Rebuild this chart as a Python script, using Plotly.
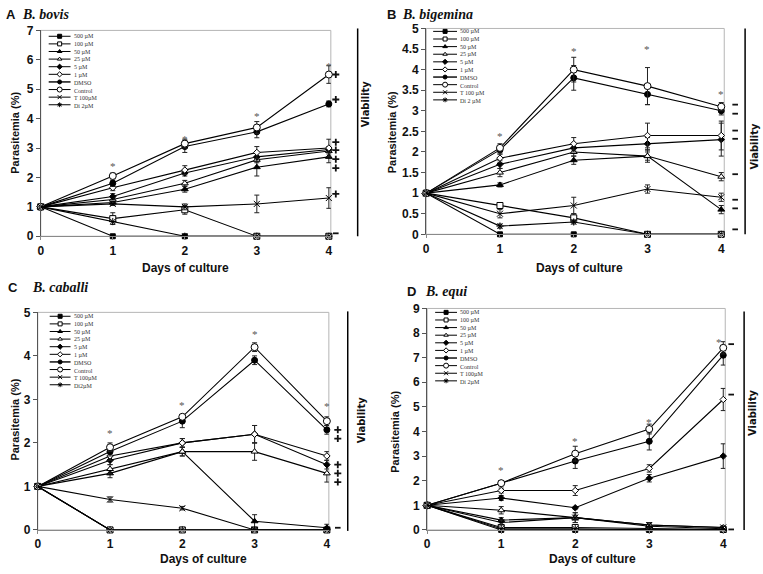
import plotly.graph_objects as go

W, H = 763, 574
days = [0, 1, 2, 3, 4]
keys = ["500", "100", "50", "25", "5", "1", "DMSO", "Control", "T", "Di"]

# ---------------- data: A  B. bovis ----------------
A_500 = [1, 0, 0, 0, 0]
A_100 = [1, 0.6, 0.9, 0, 0]
A_50 = [1, 1.15, 1.6, 2.35, 2.7]
A_25 = [1, 1.25, 1.8, 2.6, 2.9]
A_5 = [1, 1.35, 2.15, 2.7, 2.95]
A_1 = [1, 1.65, 2.25, 2.85, 3.0]
A_DMSO = [1, 1.8, 3.05, 3.55, 4.5]
A_Control = [1, 2.05, 3.15, 3.7, 5.5]
A_T = [1, 1.1, 1.0, 1.1, 1.3]
A_Di = [1, 0.5, 0, 0, 0]
A_err_Control = [0, 0.1, 0.15, 0.2, 0.3]
A_err_DMSO = [0, 0.1, 0.2, 0.2, 0.1]
A_err_1 = [0, 0.1, 0.15, 0.2, 0.3]
A_err_5 = [0, 0.1, 0.1, 0.15, 0.1]
A_err_25 = [0, 0.1, 0.1, 0.1, 0.1]
A_err_50 = [0, 0.1, 0.1, 0.3, 0.2]
A_err_100 = [0, 0.2, 0.15, 0, 0]
A_err_T = [0, 0.05, 0.1, 0.3, 0.35]
A_star = [2.38, 3.3, 4.1, 5.8]
A_plus = [5.5, 4.65, 3.2, 2.93, 2.62, 2.32, 1.44]
A_minus = [0.1]

# ---------------- data: B  B. bigemina ----------------
B_500 = [1, 0, 0, 0, 0]
B_100 = [1, 0.7, 0.4, 0, 0]
B_50 = [1, 1.2, 1.8, 1.9, 0.6]
B_25 = [1, 1.5, 2.0, 1.9, 1.4]
B_5 = [1, 1.7, 2.1, 2.2, 2.3]
B_1 = [1, 1.85, 2.2, 2.4, 2.4]
B_DMSO = [1, 2.05, 3.8, 3.4, 3.0]
B_Control = [1, 2.1, 4.0, 3.6, 3.1]
B_T = [1, 0.5, 0.7, 1.1, 0.9]
B_Di = [1, 0.2, 0.3, 0, 0]
B_err_Control = [0, 0.1, 0.3, 0.45, 0.1]
B_err_DMSO = [0, 0.1, 0.3, 0.25, 0.1]
B_err_1 = [0, 0.1, 0.15, 0.3, 0.35]
B_err_5 = [0, 0.1, 0.1, 0.15, 0.4]
B_err_25 = [0, 0.1, 0.1, 0.15, 0.1]
B_err_50 = [0, 0.05, 0.1, 0.1, 0.1]
B_err_100 = [0, 0.05, 0.1, 0, 0]
B_err_T = [0, 0.1, 0.2, 0.1, 0.1]
B_err_Di = [0, 0.05, 0.05, 0, 0]
B_star = [2.38, 4.45, 4.5, 3.42]
B_plus = []
B_minus = [3.15, 2.93, 2.52, 2.32, 1.46, 0.84, 0.63, 0.12]

# ---------------- data: C  B. caballi ----------------
C_500 = [1, 0, 0, 0, 0]
C_100 = [1, 0, 0, 0, 0]
C_50 = [1, 1.3, 1.8, 0.2, 0.05]
C_25 = [1, 1.4, 1.8, 1.8, 1.3]
C_5 = [1, 1.6, 2.0, 2.2, 1.5]
C_1 = [1, 1.7, 2.0, 2.2, 1.7]
C_DMSO = [1, 1.8, 2.5, 3.9, 2.3]
C_Control = [1, 1.9, 2.6, 4.2, 2.5]
C_T = [1, 0.7, 0.5, 0, 0]
C_Di = [1, 0, 0, 0, 0]
C_err_Control = [0, 0.1, 0.05, 0.1, 0.1]
C_err_DMSO = [0, 0.1, 0.15, 0.1, 0.1]
C_err_1 = [0, 0.1, 0.1, 0.2, 0.1]
C_err_5 = [0, 0.1, 0.1, 0.2, 0.1]
C_err_25 = [0, 0.1, 0.1, 0.2, 0.2]
C_err_50 = [0, 0.1, 0.1, 0.15, 0.08]
C_err_T = [0, 0.06, 0.04, 0, 0]
C_star = [2.22, 2.86, 4.5, 2.84]
C_plus = [2.3, 2.1, 1.5, 1.3, 1.1]
C_minus = [0.05]

# ---------------- data: D  B. equi ----------------
D_500 = [1, 0, 0, 0, 0]
D_100 = [1, 0.1, 0.1, 0.05, 0.02]
D_50 = [1, 0.4, 0.5, 0.15, 0.05]
D_25 = [1, 0.8, 0.5, 0.2, 0.1]
D_5 = [1, 1.3, 0.9, 2.1, 3.0]
D_1 = [1, 1.6, 1.6, 2.5, 5.3]
D_DMSO = [1, 1.9, 2.8, 3.6, 7.1]
D_Control = [1, 1.9, 3.1, 4.1, 7.4]
D_T = [1, 0.3, 0.5, 0.2, 0.1]
D_Di = [1, 0.05, 0.05, 0, 0]
D_err_Control = [0, 0.1, 0.3, 0.2, 0.25]
D_err_DMSO = [0, 0.1, 0.3, 0.35, 0.4]
D_err_1 = [0, 0.1, 0.2, 0.15, 0.45]
D_err_5 = [0, 0.1, 0.05, 0.15, 0.5]
D_err_25 = [0, 0.15, 0.1, 0.1, 0.05]
D_err_50 = [0, 0.1, 0.2, 0.1, 0.05]
D_err_T = [0, 0.1, 0.2, 0.1, 0.05]
D_star = [2.42, 3.6, 4.4, 7.65]
D_plus = []
D_minus = [7.55, 5.5, 0.02]

legend_A = ["500 µM", "100 µM", "50 µM", "25 µM", "5 µM", "1 µM", "DMSO", "Control", "T 100µM", "Di 2µM"]
legend_B = ["500 µM", "100 µM", "50 µM", "25 µM", "5 µM", "1 µM", "DMSO", "Control", "T 100 µM", "Di 2 µM"]
legend_C = ["500 µM", "100 µM", "50 µM", "25 µM", "5 µM", "1 µM", "DMSO", "Control", "T 100µM", "Di2µM"]
legend_D = ["500 µM", "100 µM", "50 µM", "25 µM", "5 µM", "1 µM", "DMSO", "Control", "T 100µM", "Di 2µM"]

yticks_A = [0, 1, 2, 3, 4, 5, 6, 7]
yticks_B = [0, 0.5, 1, 1.5, 2, 2.5, 3, 3.5, 4, 4.5, 5]
yticks_C = [0, 1, 2, 3, 4, 5]
yticks_D = [0, 1, 2, 3, 4, 5, 6, 7, 8, 9]

G = globals()

# marker styles: symbol, fill, size
styles = {
    "500": ("square", "black", 5),
    "100": ("square", "white", 6),
    "50": ("triangle-up", "black", 6),
    "25": ("triangle-up", "white", 6),
    "5": ("diamond", "black", 5),
    "1": ("diamond", "white", 5),
    "DMSO": ("circle", "black", 6),
    "Control": ("circle", "white", 7),
    "T": ("x-thin-open", "black", 6),
    "Di": ("asterisk-open", "black", 6),
}

LEG_FONT = 6
LEG_DY = 1.3 * LEG_FONT

# layout of panels (pixels)
panels = [
    dict(p="A", name="B. bovis", x0=38, x4=328, xr=330, y0=235, yt=24, yticks=yticks_A,
         leg=legend_A, lx0=46, lx1=68, ly=30,
         ytitle=(12, 129), xtitle=(184, 268), vtext=(365, 99), vline=(357, 22, 235),
         title=(1, 17, 8), mx=335),
    dict(p="B", name="B. bigemina", x0=426, x4=723, xr=726, y0=233, yt=22, yticks=yticks_B,
         leg=legend_B, lx0=433, lx1=457, ly=25,
         ytitle=(391, 128), xtitle=(580, 268), vtext=(756, 143), vline=(747, 22, 233),
         title=(385, 400, 8), mx=737),
    dict(p="C", name="B. caballi", x0=35, x4=326, xr=328, y0=536, yt=313, yticks=yticks_C,
         leg=legend_C, lx0=47, lx1=68, ly=317,
         ytitle=(12, 423), xtitle=(202, 566), vtext=(361, 423), vline=(347, 312, 537),
         title=(3, 27, 288), mx=337),
    dict(p="D", name="B. equi", x0=427, x4=725, xr=727, y0=536, yt=309, yticks=yticks_D,
         leg=legend_D, lx0=435, lx1=457, ly=313,
         ytitle=(395, 435), xtitle=(593, 566), vtext=(755, 416), vline=(746, 312, 536),
         title=(405, 423, 292), mx=733),
]

fig = go.Figure()
annotations = []
shapes = []
layout = {}

for i, P in enumerate(panels, start=1):
    sfx = "" if i == 1 else str(i)
    xa, ya = f"x{sfx}", f"y{sfx}"
    xr_val = 4 * (P["xr"] - P["x0"]) / (P["x4"] - P["x0"])
    ymax = P["yticks"][-1]
    layout[f"xaxis{sfx}"] = dict(
        domain=[P["x0"] / W, P["xr"] / W], range=[0, xr_val], anchor=ya,
        tickvals=days, showline=True, linecolor="#8a8a8a", linewidth=1,
        ticks="outside", ticklen=3, tickcolor="#8a8a8a", showgrid=False, zeroline=False,
        tickfont=dict(family="Liberation Sans", size=12, color="#111", weight="bold"),
        fixedrange=True)
    layout[f"yaxis{sfx}"] = dict(
        domain=[1 - P["y0"] / H, 1 - P["yt"] / H], range=[0, ymax], anchor=xa,
        tickvals=P["yticks"], showline=True, linecolor="#555", linewidth=1,
        ticks="outside", ticklen=4, tickcolor="#555", showgrid=False, zeroline=False,
        tickfont=dict(family="Liberation Sans", size=12, color="#111", weight="bold"),
        fixedrange=True)
    # hidden narrow x axis for the viability column, sharing the panel's y scale
    mk = 5 + i
    layout[f"xaxis{mk}"] = dict(domain=[(P["mx"] - 6) / W, (P["mx"] + 6) / W], range=[-1, 1],
                                anchor=ya, visible=False, fixedrange=True)
    # frame
    shapes.append(dict(type="rect", xref=f"{xa} domain", yref=f"{ya} domain",
                       x0=0, x1=1, y0=0, y1=1, line=dict(color="#b5b5b5", width=1), layer="below"))
    p = P["p"]
    for k in keys:
        vals = G[f"{p}_{k}"]
        err = G.get(f"{p}_err_{k}")
        sym, fill, size = styles[k]
        tr = dict(x=days, y=vals, xaxis=xa, yaxis=ya, mode="lines+markers",
                  line=dict(color="black", width=1.1),
                  marker=dict(symbol=sym, color=fill, size=size, line=dict(color="black", width=1)),
                  cliponaxis=False, showlegend=False, hoverinfo="skip")
        if err is not None:
            tr["error_y"] = dict(type="data", array=err, visible=True, color="#222",
                                 thickness=1, width=2.5)
        fig.add_trace(go.Scatter(**tr))
    # asterisks
    for d, yv in zip(days[1:], G[f"{p}_star"]):
        annotations.append(dict(x=d, y=yv, xref=xa, yref=ya, text="*", showarrow=False,
                                xshift=-4 if (p == "D" and d == 4) else 0, borderpad=0,
                                font=dict(family="Liberation Serif", size=11, color="#555")))
    # viability marks (+ / -)
    plus = G[f"{p}_plus"]
    minus = G[f"{p}_minus"]
    if plus:
        fig.add_trace(go.Scatter(x=[0] * len(plus), y=plus, xaxis=f"x{mk}", yaxis=ya, mode="markers",
                                 marker=dict(symbol="cross-thin-open", size=5, color="#111",
                                             line=dict(color="#111", width=1.8)),
                                 cliponaxis=False, showlegend=False, hoverinfo="skip"))
    if minus:
        fig.add_trace(go.Scatter(x=[0] * len(minus), y=minus, xaxis=f"x{mk}", yaxis=ya, mode="markers",
                                 marker=dict(symbol="line-ew-open", size=4, color="#111",
                                             line=dict(color="#111", width=1.8)),
                                 cliponaxis=False, showlegend=False, hoverinfo="skip"))
    # legend samples on overlay pixel axis
    for j, k in enumerate(keys):
        ly = P["ly"] + j * LEG_DY
        sym, fill, size = styles[k]
        fig.add_trace(go.Scatter(x=[P["lx0"], P["lx1"]], y=[ly, ly], xaxis="x5", yaxis="y5",
                                 mode="lines", line=dict(color="black", width=1.4 if k == "DMSO" else 1),
                                 showlegend=False, hoverinfo="skip"))
        fig.add_trace(go.Scatter(x=[(P["lx0"] + P["lx1"]) / 2], y=[ly], xaxis="x5", yaxis="y5",
                                 mode="markers",
                                 marker=dict(symbol=sym, color=fill, size=max(size - 2, 4),
                                             line=dict(color="black", width=1)),
                                 showlegend=False, hoverinfo="skip"))
    annotations.append(dict(x=P["lx1"] + 2, y=P["ly"] + 4.5 * LEG_DY, xref="x5", yref="y5",
                            text="<br>".join(P["leg"]), align="left",
                            showarrow=False, xanchor="left", yanchor="middle", borderpad=0,
                            font=dict(family="Liberation Serif", size=LEG_FONT, color="#333")))
    # titles and labels
    tx1, tx2, ty = P["title"]
    annotations.append(dict(x=tx1, y=ty, xref="x5", yref="y5", text=f"<b>{p}</b>", showarrow=False,
                            xanchor="left", font=dict(family="Liberation Sans", size=13, color="#111")))
    annotations.append(dict(x=tx2, y=ty, xref="x5", yref="y5", text=f"<b><i>{P['name']}</i></b>",
                            showarrow=False, xanchor="left",
                            font=dict(family="Liberation Serif", size=14, color="#111")))
    annotations.append(dict(x=P["ytitle"][0], y=P["ytitle"][1], xref="x5", yref="y5",
                            text="<b>Parasitemia (%)</b>", textangle=-90, showarrow=False,
                            font=dict(family="Liberation Sans", size=11, color="#111")))
    annotations.append(dict(x=P["xtitle"][0], y=P["xtitle"][1], xref="x5", yref="y5",
                            text="<b>Days of culture</b>", showarrow=False,
                            font=dict(family="Liberation Sans", size=12, color="#111")))
    annotations.append(dict(x=P["vtext"][0], y=P["vtext"][1], xref="x5", yref="y5",
                            text="<b>Viability</b>", textangle=-90, showarrow=False, borderpad=0,
                            font=dict(family="Liberation Sans Narrow, DejaVu Sans Condensed, Liberation Sans",
                                      size=11, color="#111")))
    vx, vy0, vy1 = P["vline"]
    shapes.append(dict(type="line", xref="x5", yref="y5", x0=vx, x1=vx, y0=vy0, y1=vy1,
                       line=dict(color="black", width=1.5)))

layout["xaxis5"] = dict(domain=[0, 1], range=[0, W], anchor="y5", visible=False, fixedrange=True)
layout["yaxis5"] = dict(domain=[0, 1], range=[H, 0], anchor="x5", visible=False, fixedrange=True)

fig.update_layout(
    width=W, height=H, margin=dict(l=0, r=0, t=0, b=0),
    paper_bgcolor="white", plot_bgcolor="rgba(0,0,0,0)",
    showlegend=False, annotations=annotations, shapes=shapes, **layout)

fig.write_html("out.html", config={"displayModeBar": False},
               post_script="document.body.style.margin='0px';document.body.style.overflow='hidden';")
